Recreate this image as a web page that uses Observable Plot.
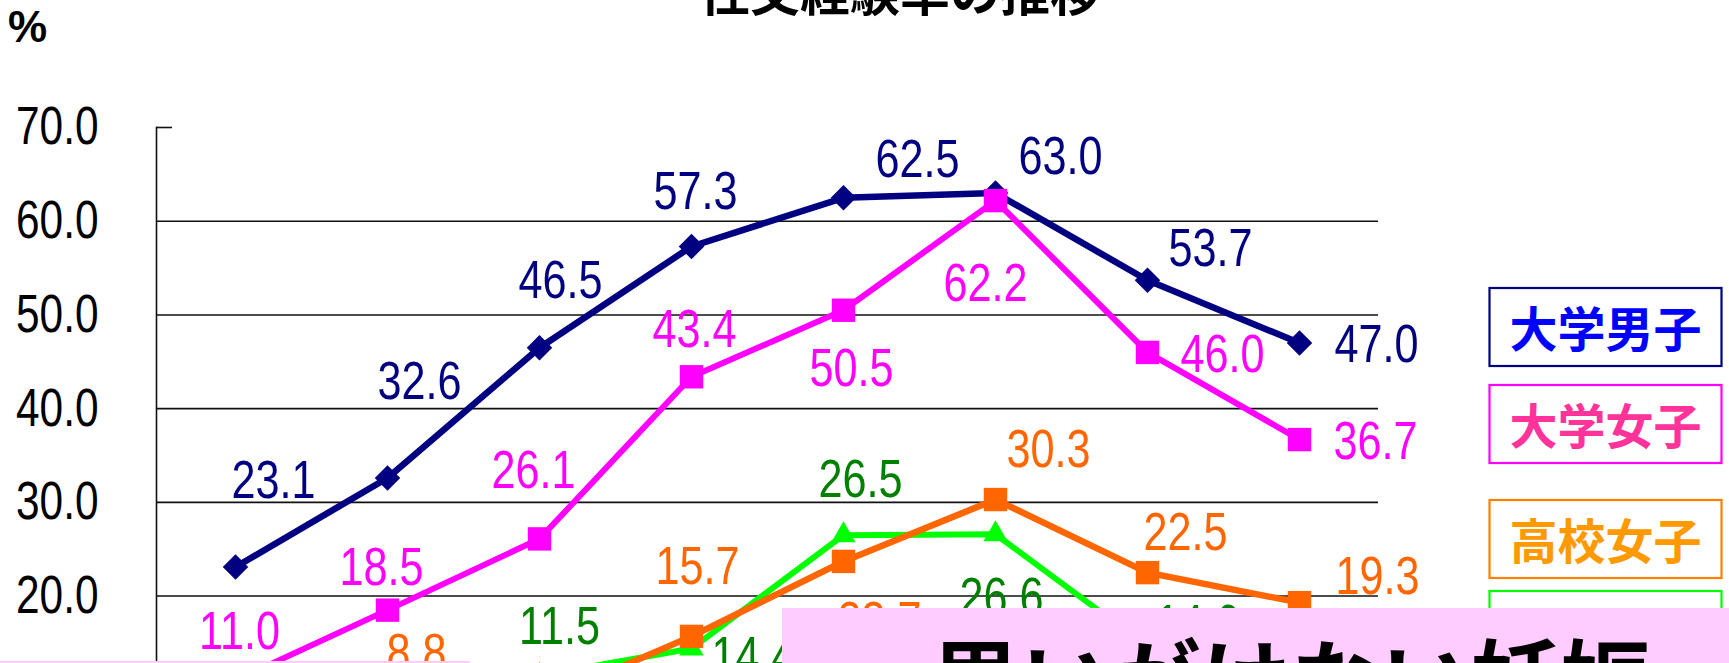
<!DOCTYPE html>
<html><head><meta charset="utf-8">
<script src="https://cdn.jsdelivr.net/npm/d3@7"></script>
<script src="https://cdn.jsdelivr.net/npm/@observablehq/plot@0.6"></script>
<style>
html,body{margin:0;padding:0;overflow:hidden;background:#fff;width:1729px;height:663px}
#wrap{position:relative;width:1729px;height:663px;overflow:hidden;background:#fff}
#chart{position:absolute;left:0;top:0}
#overlay{position:absolute;left:0;top:0;pointer-events:none}
</style></head><body>
<div id="wrap"><div id="chart"></div><svg id="overlay" width="1729" height="663"></svg></div>
<script>
// ---- data ----
const years = ["1974年","1981年","1987年","1993年","1999年","2005年","2011年","2017年"];
const seriesNames = ["大学男子","大学女子","高校女子","高校男子"];
const univMale   = [23.1, 32.6, 46.5, 57.3, 62.5, 63.0, 53.7, 47.0];
const univFemale = [11.0, 18.5, 26.1, 43.4, 50.5, 62.2, 46.0, 36.7];
const hsMale     = [10.2,  7.9, 11.5, 14.4, 26.5, 26.6, 14.6, 13.6];
const hsFemale   = [ 5.5,  8.8,  8.7, 15.7, 23.7, 30.3, 22.5, 19.3];
const yTicks = [10, 20, 30, 40, 50, 60, 70];
const titleText = "性交経験率の推移";
const unitText = "%";
const bannerText = "思いがけない妊娠";

// ---- styles (not data) ----
const styles = {
  "大学男子": {values: univMale, line: "#000080", label: "#000080", symbol: "diamond2", r: 11.5, sw: 6.5,
              legendText: "#0000FF", legendBorder: "#000080", legendTop: 288,
              off: [[38,-88],[32,-98],[21,-69],[4,-57],[74,-40],[65,-38],[63,-34],[77,0]]},
  "大学女子": {values: univFemale, line: "#FF00FF", label: "#FF00FF", symbol: "square", r: 13.2, sw: 6,
              legendText: "#FF3399", legendBorder: "#FF00FF", legendTop: 385,
              off: [[4,-51],[-6,-44],[-6,-70],[3,-49],[8,56],[-10,81],[75,0],[76,0]]},
  "高校男子": {values: hsMale, line: "#00FF00", label: "#008000", symbol: "triangle", r: 9, sw: 6,
              legendText: "#00A000", legendBorder: "#00FF00", legendTop: 591,
              off: [[0,52],[0,52],[20,-51],[62,6],[17,-57],[6,61],[50,-24],[78,0]]},
  "高校女子": {values: hsFemale, line: "#FF6600", label: "#FF6600", symbol: "square", r: 13.2, sw: 6.5,
              legendText: "#FF9900", legendBorder: "#FF8000", legendTop: 500,
              off: [[0,-50],[29,-49],[0,52],[6,-72],[36,58],[53,-52],[38,-42],[78,-28]]}
};
const drawOrder = ["大学男子","大学女子","高校男子","高校女子"];

const rows = name => years.map((year, i) => ({series: name, year, value: styles[name].values[i], i}));

const marks = [
  Plot.ruleY(yTicks.filter(t => t < 70), {stroke: "#111", strokeWidth: 1.6}),
  Plot.ruleY([70], {stroke: "#111", strokeWidth: 1.6, insetRight: 1206}),
  Plot.frame({anchor: "left", stroke: "#111", strokeWidth: 1.6}),
  Plot.axisY(yTicks, {tickSize: 0, tickPadding: 58, tickFormat: d => d.toFixed(1), fontSize: 53, color: "#000", label: null})
];
for (const name of drawOrder) {
  const s = styles[name];
  const data = rows(name);
  marks.push(Plot.line(data, {x: "year", y: "value", stroke: s.line, strokeWidth: s.sw}));
  marks.push(Plot.dot(data, {x: "year", y: "value", symbol: s.symbol, r: s.r, fill: s.line, stroke: null}));
}
for (const name of drawOrder) {
  const s = styles[name];
  rows(name).forEach((d, i) => {
    marks.push(Plot.text([d], {x: "year", y: "value", text: v => v.value.toFixed(1),
      fill: s.label, fontSize: 54, dx: s.off[i][0], dy: s.off[i][1] + 2}));
  });
}

const plot = Plot.plot({
  width: 1729, height: 840,
  marginTop: 127, marginLeft: 156, marginRight: 351, marginBottom: 57,
  style: {fontFamily: "'Liberation Sans', Arial, sans-serif", background: "transparent", overflow: "visible"},
  x: {type: "point", domain: years, padding: 0.5, axis: null},
  y: {domain: [0, 70], axis: null},
  marks
});
document.getElementById("chart").appendChild(plot);

// condense the numeric font horizontally
plot.querySelectorAll("text").forEach(t => {
  const len = t.getComputedTextLength();
  if (len > 0) {
    t.setAttribute("textLength", (len * 0.8).toFixed(1));
    t.setAttribute("lengthAdjust", "spacingAndGlyphs");
  }
});

// ---- overlay: title, unit, legend boxes, slide banners ----
const ov = d3.select("#overlay");
const cjk = "'Noto Sans CJK JP', 'Noto Sans CJK SC', sans-serif";
ov.append("text").attr("x", 900).attr("y", 11).attr("text-anchor", "middle")
  .style("font", `bold 50px ${cjk}`).attr("fill", "#000").text(titleText);
ov.append("text").attr("x", 8).attr("y", 42)
  .style("font", "bold 44px 'Liberation Sans', Arial, sans-serif").attr("fill", "#000").text(unitText);

for (const name of seriesNames) {
  const s = styles[name];
  ov.append("rect").attr("x", 1489.5).attr("y", s.legendTop).attr("width", 232).attr("height", 78)
    .attr("fill", "#fff").attr("stroke", s.legendBorder).attr("stroke-width", 2.2);
  ov.append("text").attr("x", 1605.5).attr("y", s.legendTop + 59).attr("text-anchor", "middle")
    .style("font", `bold 48px ${cjk}`).attr("fill", s.legendText).text(name);
}

ov.append("rect").attr("x", 782).attr("y", 608).attr("width", 960).attr("height", 80).attr("fill", "#FFCCFF");
ov.append("text").attr("x", 931).attr("y", 715).style("font", `bold 90px ${cjk}`).attr("fill", "#000").text(bannerText);
ov.append("rect").attr("x", 0).attr("y", 661).attr("width", 470).attr("height", 10).attr("fill", "#FFCCFF");
</script>
</body></html>
